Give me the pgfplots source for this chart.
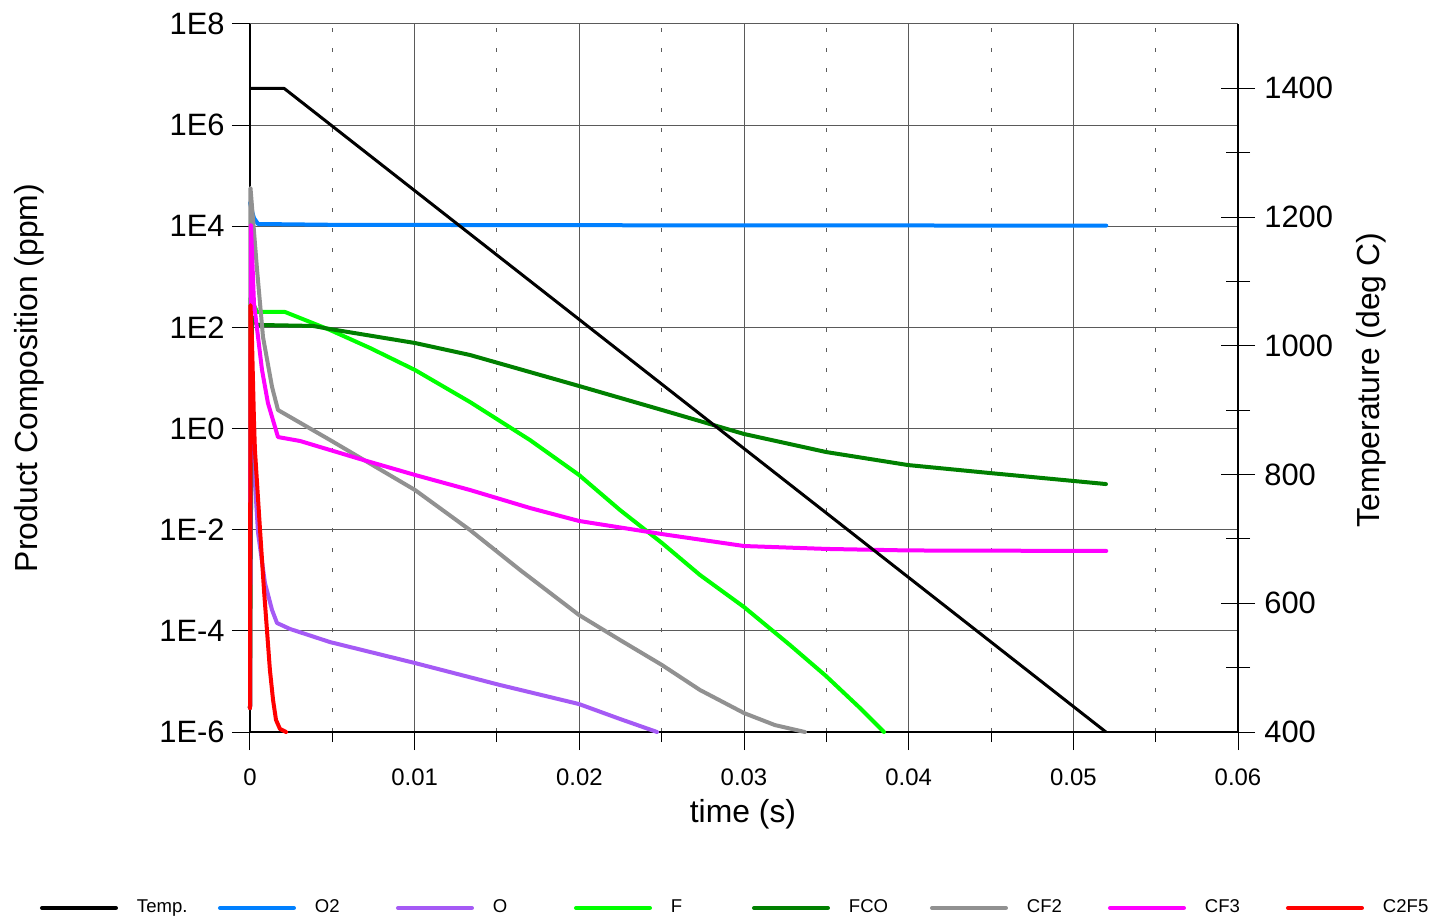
\documentclass[border=0pt]{standalone}
\usepackage{pgfplots}
\pgfplotsset{compat=1.18}
\usepackage{fontspec}
\setmainfont{Liberation Sans}
\definecolor{cO2}{RGB}{0,128,255}
\definecolor{cO}{RGB}{165,90,245}
\definecolor{cF}{RGB}{0,255,0}
\definecolor{cFCO}{RGB}{0,128,0}
\definecolor{cCF2}{RGB}{145,145,145}
\definecolor{cCF3}{RGB}{255,0,255}
\definecolor{cC2F5}{RGB}{255,0,0}
\definecolor{gridc}{RGB}{90,90,90}
\begin{document}
\begin{tikzpicture}
\useasboundingbox (-125bp,-94bp) rectangle (594.5bp,366bp);
\begin{axis}[
  at={(0,0)}, anchor=south west,
  scale only axis, width=494bp, height=354bp,
  xmin=0, xmax=0.06, ymode=log, ymin=1e-6, ymax=1e8,
  scaled x ticks=false,
  axis x line*=bottom, axis y line*=left,
  axis line style={-, black, line width=0.6bp},
  xtick={0,0.01,0.02,0.03,0.04,0.05,0.06},
  xticklabels={0,0.01,0.02,0.03,0.04,0.05,0.06},
  minor x tick num=1,
  ytick={1e-6,1e-4,1e-2,1,1e2,1e4,1e6,1e8},
  yticklabels={1E-6,1E-4,1E-2,1E0,1E2,1E4,1E6,1E8},
  yminorticks=false,
  xmajorgrids, xminorgrids, ymajorgrids,
  major grid style={gridc, line width=0.5bp},
  minor grid style={gridc, line width=0.5bp, dash pattern=on 2bp off 8bp},
  tick align=outside, major tick length=9bp, minor tick length=5bp,
  tick style={black, line width=0.5bp},
  yticklabel style={font=\fontsize{15.5}{18}\selectfont, inner sep=0pt, xshift=-3.5bp},
  xticklabel style={font=\fontsize{12}{14}\selectfont, inner sep=0pt, yshift=-9bp},
  xlabel={time (s)}, ylabel={Product Composition (ppm)},
  every axis x label/.style={at={(axis description cs:0.499,-0.1285)}, anchor=base, font=\fontsize{16}{19}\selectfont},
  every axis y label/.style={at={(axis description cs:-0.2146,0.5)}, rotate=90, anchor=base, font=\fontsize{16}{19}\selectfont},
  clip=false,
  every axis plot/.append style={line width=2bp, line join=round, line cap=round},
]
\addplot[cO2] coordinates {(0,2.9e4) (0.00012,2.0e4) (0.00024,1.46e4) (0.00049,1.11e4) (0.005,1.07e4) (0.02,1.05e4) (0.052,1.03e4)};
\addplot[cO] coordinates {(0,3e-6) (0.00003,30) (0.00018,0.377) (0.00049,8.6e-3) (0.00091,8.8e-4) (0.00134,2.58e-4) (0.00164,1.43e-4) (0.00243,1.09e-4) (0.00486,6.0e-5) (0.01002,2.31e-5) (0.01518,8.5e-6) (0.01998,3.57e-6) (0.02247,1.81e-6) (0.02472,1e-6)};
\addplot[cF] coordinates {(0,3e-6) (0.00003,382) (0.00043,202) (0.00213,202) (0.00486,89) (0.00729,39.2) (0.01002,14.4) (0.01336,3.35) (0.017,0.594) (0.01998,0.121) (0.02247,0.0245) (0.02502,5.46e-3) (0.02733,1.27e-3) (0.03,2.96e-4) (0.03279,5.25e-5) (0.03498,1.28e-5) (0.03704,2.99e-6) (0.0385,1e-6)};
\addplot[cFCO] coordinates {(0,3e-6) (0.00012,161) (0.00043,112) (0.00383,107) (0.00486,93) (0.01002,49.2) (0.01336,28.5) (0.01998,6.95) (0.02502,2.33) (0.03,0.782) (0.03498,0.344) (0.03996,0.19) (0.04494,0.132) (0.05198,0.080)};
\addplot[cCF2] coordinates {(0,3e-6) (0.00003,5.75e4) (0.00043,1.37e3) (0.00079,64.6) (0.00134,6.64) (0.0017,2.33) (0.00486,0.594) (0.01002,0.061) (0.01336,9.86e-3) (0.0164,1.6e-3) (0.01998,2.06e-4) (0.02247,6.6e-5) (0.02502,2.11e-5) (0.02733,6.76e-6) (0.03,2.37e-6) (0.03188,1.37e-6) (0.0337,1e-6)};
\addplot[cCF3] coordinates {(0,3e-6) (0.00006,1.06e4) (0.00024,304) (0.00073,14.4) (0.00109,3.2) (0.0017,0.68) (0.00304,0.568) (0.00486,0.377) (0.00668,0.25) (0.01002,0.121) (0.01336,0.061) (0.017,0.0269) (0.01998,0.0149) (0.02502,8.2e-3) (0.03,4.76e-3) (0.035,4.17e-3) (0.04,3.89e-3) (0.052,3.8e-3)};
\addplot[cC2F5] coordinates {(0,2.95e-6) (0.00003,275) (0.00012,56.4) (0.00024,1.48) (0.0003,0.377) (0.00061,9.86e-3) (0.00085,6.43e-4) (0.00103,1.04e-4) (0.00121,1.68e-5) (0.0014,4.3e-6) (0.00158,1.73e-6) (0.00182,1.15e-6) (0.00219,1e-6)};
\end{axis}
\begin{axis}[
  at={(0,0)}, anchor=south west,
  scale only axis, width=494bp, height=354bp,
  xmin=0, xmax=0.06, ymin=400, ymax=1500,
  scaled x ticks=false, scaled y ticks=false,
  axis x line=none, axis y line*=right,
  axis line style={-, black, line width=0.6bp},
  ytick={400,600,800,1000,1200,1400},
  yticklabels={400,600,800,1000,1200,1400},
  minor y tick num=1,
  tick align=center, major tick length=17bp, minor tick length=12bp,
  tick style={black, line width=0.5bp},
  yticklabel style={font=\fontsize{15.5}{18}\selectfont, inner sep=0pt, anchor=west, xshift=4.5bp},
  ylabel={Temperature (deg C)},
  every axis y label/.style={at={(axis description cs:1.1437,0.4972)}, rotate=90, anchor=base, font=\fontsize{16}{19}\selectfont},
  clip=false,
  legend columns=8,
  legend style={at={(axis description cs:0.5081,-0.2486)}, anchor=center, draw=none, fill=none,
    font=\fontsize{9.3}{10}\selectfont, nodes={inner sep=0pt},
    /tikz/every odd column/.append style={column sep=9.5bp}},
  legend cell align=left,
  legend image code/.code={\draw[#1, line width=2.2bp, line cap=round] (1.1bp,0bp) -- (37.9bp,0bp);},
]
\addplot[black, line width=1.5bp, line join=round] coordinates {(0,1400) (0.00207,1400) (0.05198,400)};
\addlegendentry{\makebox[40.5bp][l]{Temp.}}
\addlegendimage{cO2}\addlegendentry{\makebox[40.5bp][l]{O2}}
\addlegendimage{cO}\addlegendentry{\makebox[40.5bp][l]{O}}
\addlegendimage{cF}\addlegendentry{\makebox[40.5bp][l]{F}}
\addlegendimage{cFCO}\addlegendentry{\makebox[40.5bp][l]{FCO}}
\addlegendimage{cCF2}\addlegendentry{\makebox[40.5bp][l]{CF2}}
\addlegendimage{cCF3}\addlegendentry{\makebox[40.5bp][l]{CF3}}
\addlegendimage{cC2F5}\addlegendentry{\makebox[40.5bp][l]{C2F5}}
\end{axis}
\end{tikzpicture}
\end{document}
